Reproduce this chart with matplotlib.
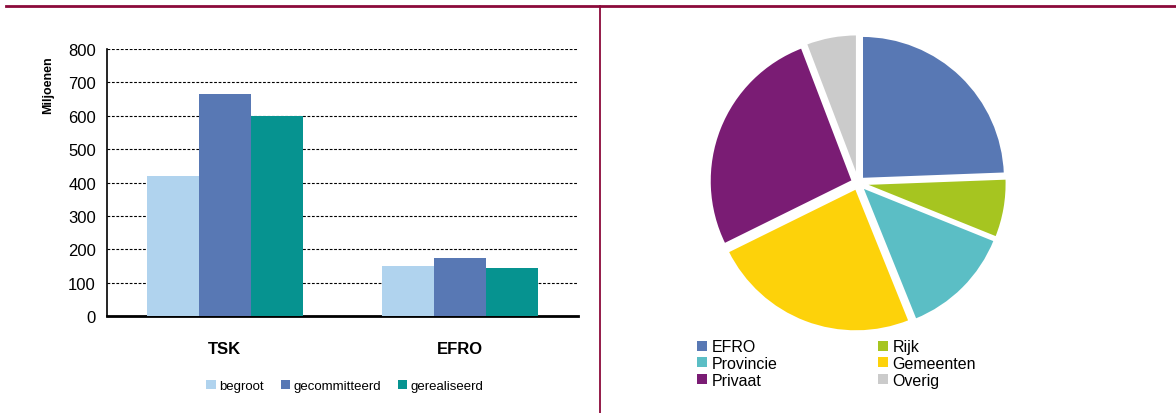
import matplotlib
matplotlib.use("Agg")
import matplotlib.pyplot as plt
import numpy as np
from matplotlib.lines import Line2D
from matplotlib.patches import Patch

plt.rcParams['font.family'] = ['Liberation Sans', 'DejaVu Sans']

# bar chart data
categories = ['TSK', 'EFRO']
series_names = ['begroot', 'gecommitteerd', 'gerealiseerd']
begroot = [418, 150]
gecommitteerd = [665, 175]
gerealiseerd = [600, 145]
bar_colors = ['#B0D3EE', '#5878B4', '#069390']

# pie chart data (share in %)
pie_labels = ['EFRO', 'Rijk', 'Provincie', 'Gemeenten', 'Privaat', 'Overig']
pie_values = [24.4, 6.7, 12.8, 23.8, 26.5, 5.8]
pie_colors = ['#5878B4', '#A6C520', '#5BBEC5', '#FDD20A', '#7A1C74', '#CBCBCB']

maroon = '#8B0A3A'

fig = plt.figure(figsize=(11.76, 4.14), dpi=100)

# frame lines
fig.add_artist(Line2D([6 / 1176, 1.0], [1 - 7 / 414, 1 - 7 / 414], color=maroon, lw=2))
fig.add_artist(Line2D([600 / 1176, 600 / 1176], [0, 1 - 7 / 414], color=maroon, lw=1.3))

# ---------- bar chart ----------
ax = fig.add_axes([107 / 1176, 97 / 414, 471 / 1176, 267 / 414])
x = np.arange(len(categories))
w = 0.221
for i, (vals, col) in enumerate(zip([begroot, gecommitteerd, gerealiseerd], bar_colors)):
    ax.bar(x + (i - 1) * w, vals, w, color=col, label=series_names[i], zorder=3)

ax.set_xlim(-0.5, 1.5)
ax.set_ylim(0, 800)
ax.set_yticks(np.arange(0, 801, 100))
ax.yaxis.grid(True, linestyle=(0, (2.5, 1.5)), color='black', lw=0.8, zorder=0)
ax.set_axisbelow(True)
ax.tick_params(axis='y', length=0, labelsize=12, pad=8)
ax.set_xticks(x)
ax.set_xticklabels(categories, fontsize=12, fontweight='bold')
ax.tick_params(axis='x', length=0, pad=18)
for s in ['top', 'right']:
    ax.spines[s].set_visible(False)
ax.spines['left'].set_linewidth(1.2)
ax.spines['bottom'].set_linewidth(2)
ax.set_ylabel('Miljoenen', fontsize=9, fontweight='bold')
ax.yaxis.set_label_coords(-0.113, 0.87)

ax.legend(loc='upper center', bbox_to_anchor=(0.505, -0.195), ncol=3, frameon=False,
          fontsize=9.5, handlelength=0.7, handleheight=0.7, handletextpad=0.25,
          columnspacing=1.3)

# ---------- pie chart ----------
pax = fig.add_axes([(858 - 165) / 1176, (414 - 184 - 165) / 414, 330 / 1176, 330 / 414])
pax.pie(pie_values, colors=pie_colors, startangle=90, counterclock=False,
        explode=[0.04] * len(pie_values),
        wedgeprops=dict(edgecolor='white', linewidth=1.5))
pax.set_xlim(-1.154, 1.154)
pax.set_ylim(-1.154, 1.154)
pax.set_aspect('equal')
pax.axis('off')

order = [0, 2, 4, 1, 3, 5]
handles = [Patch(facecolor=pie_colors[i], label=pie_labels[i]) for i in order]
fig.legend(handles=handles, loc='upper left', bbox_to_anchor=(683 / 1176, 1 - 326 / 414),
           ncol=2, frameon=False, fontsize=11.5, handlelength=0.6, handleheight=0.6,
           handletextpad=0.3, columnspacing=6.3, labelspacing=0.1)

fig.savefig('out.png', dpi=100)
